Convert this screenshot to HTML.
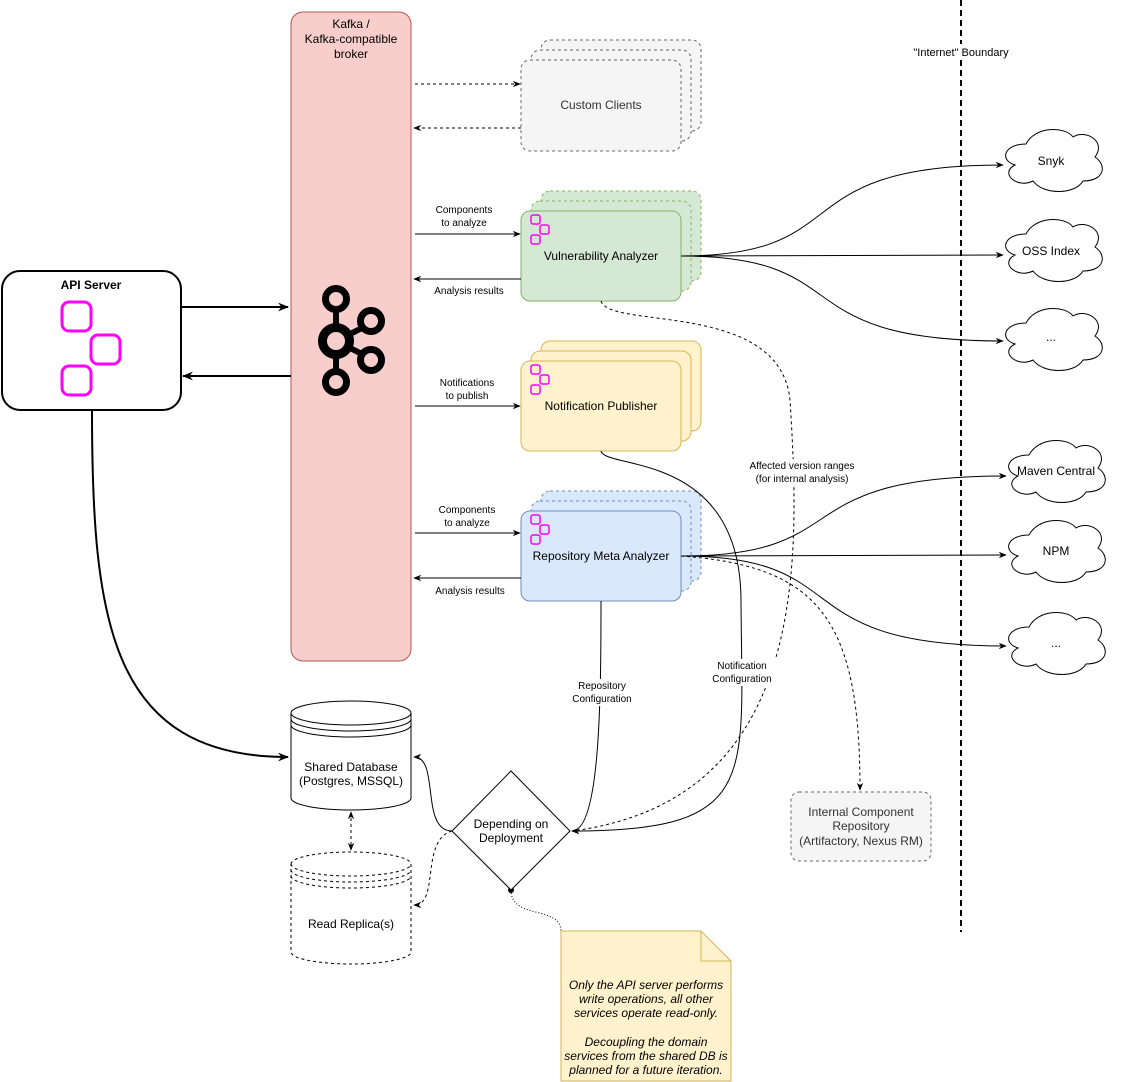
<!DOCTYPE html>
<html><head><meta charset="utf-8"><style>
body{margin:0;background:#fff}
svg{display:block;font-family:"Liberation Sans",Helvetica,sans-serif}
text{font-size:12px;fill:#000}
</style></head><body>
<svg width="1122" height="1082" viewBox="0 0 1122 1082" xmlns="http://www.w3.org/2000/svg">
<defs>
<marker id="a" viewBox="0 0 10 10" refX="9" refY="5" markerWidth="8" markerHeight="8" orient="auto-start-reverse" markerUnits="userSpaceOnUse"><path d="M0,1 L10,5 L0,9 L3,5 Z" fill="#000"/></marker>
<marker id="b" viewBox="0 0 10 10" refX="9" refY="5" markerWidth="11" markerHeight="11" orient="auto-start-reverse" markerUnits="userSpaceOnUse"><path d="M0,1 L10,5 L0,9 L3,5 Z" fill="#000"/></marker>
<path id="cl" d="M27 15 C5 15 0 31 16 36 C0 44 18 60 34 52 C44 66 76 66 84 52 C106 52 108 36 96 28 C108 12 86 0 74 8 C66 -3 36 -3 27 15 Z"/>
<g id="ic" fill="none" stroke="#ff00ff" stroke-width="1.5"><rect x="0" y="0" width="9" height="9" rx="2"/><rect x="9" y="10" width="9" height="9" rx="2"/><rect x="0" y="20" width="9" height="9" rx="2"/></g>
</defs>

<!-- boundary -->
<line x1="961" y1="0" x2="961" y2="932" stroke="#000" stroke-width="2" stroke-dasharray="6,4"/>
<rect x="912" y="44" width="98" height="13" fill="#fff"/>
<text x="961" y="56" text-anchor="middle" style="font-size:11px">"Internet" Boundary</text>

<!-- Kafka -->
<rect x="291" y="12" width="120" height="649" rx="12" fill="#f8cecc" stroke="#b85450"/>
<text x="351" y="28" text-anchor="middle">Kafka /</text>
<text x="351" y="43" text-anchor="middle">Kafka-compatible</text>
<text x="351" y="58" text-anchor="middle">broker</text>
<g stroke="#000" stroke-width="6" fill="none">
<line x1="336" y1="308" x2="336" y2="373"/><line x1="336" y1="341" x2="364" y2="327"/><line x1="336" y1="341" x2="364" y2="355"/>
<circle cx="336" cy="341" r="13.5" fill="#f8cecc" stroke-width="9"/>
<circle cx="336" cy="299" r="10.5" fill="#f8cecc" stroke-width="7"/><circle cx="336" cy="382" r="10.5" fill="#f8cecc" stroke-width="7"/>
<circle cx="371" cy="321" r="10.5" fill="#f8cecc" stroke-width="7"/><circle cx="371" cy="360" r="10.5" fill="#f8cecc" stroke-width="7"/>
</g>

<!-- API server -->
<rect x="2" y="271" width="179" height="139" rx="18" fill="#fff" stroke="#000" stroke-width="2"/>
<text x="91" y="289" text-anchor="middle" font-weight="bold">API Server</text>
<g fill="none" stroke="#ff00ff" stroke-width="3"><rect x="62" y="302" width="29" height="29" rx="7"/><rect x="91" y="335" width="29" height="29" rx="7"/><rect x="62" y="366" width="29" height="29" rx="7"/></g>
<line x1="181" y1="307" x2="288" y2="307" stroke="#000" stroke-width="2" marker-end="url(#b)"/>
<line x1="291" y1="376" x2="183" y2="376" stroke="#000" stroke-width="2" marker-end="url(#b)"/>

<!-- Custom clients -->
<g fill="#f5f5f5" stroke="#666" stroke-dasharray="3,3">
<rect x="541" y="40" width="160" height="91" rx="9"/><rect x="531" y="50" width="160" height="91" rx="9"/><rect x="521" y="60" width="160" height="91" rx="9"/></g>
<text x="601" y="109" text-anchor="middle" style="fill:#333">Custom Clients</text>
<line x1="415" y1="84" x2="520" y2="84" stroke="#000" stroke-dasharray="3,3" marker-end="url(#a)"/>
<line x1="521" y1="128" x2="414" y2="128" stroke="#000" stroke-dasharray="3,3" marker-end="url(#a)"/>

<!-- Vulnerability Analyzer -->
<g fill="#d5e8d4" stroke="#82b366"><rect x="541" y="191" width="160" height="90" rx="9" stroke-dasharray="3,3"/><rect x="531" y="201" width="160" height="90" rx="9" stroke-dasharray="3,3"/><rect x="521" y="211" width="160" height="90" rx="9"/></g>
<use href="#ic" x="531" y="215"/>
<text x="601" y="260" text-anchor="middle">Vulnerability Analyzer</text>
<line x1="415" y1="234" x2="520" y2="234" stroke="#000" marker-end="url(#a)"/>
<text x="464" y="213" text-anchor="middle" style="font-size:10px">Components</text><text x="464" y="226" text-anchor="middle" style="font-size:10px">to analyze</text>
<line x1="521" y1="279" x2="414" y2="279" stroke="#000" marker-end="url(#a)"/>
<text x="469" y="294" text-anchor="middle" style="font-size:10px">Analysis results</text>

<!-- Notification Publisher -->
<g fill="#fff2cc" stroke="#d6b656"><rect x="541" y="341" width="160" height="90" rx="9"/><rect x="531" y="351" width="160" height="90" rx="9"/><rect x="521" y="361" width="160" height="90" rx="9"/></g>
<use href="#ic" x="531" y="365"/>
<text x="601" y="410" text-anchor="middle">Notification Publisher</text>
<line x1="415" y1="406" x2="520" y2="406" stroke="#000" marker-end="url(#a)"/>
<text x="467" y="386" text-anchor="middle" style="font-size:10px">Notifications</text><text x="467" y="399" text-anchor="middle" style="font-size:10px">to publish</text>

<!-- Repository Meta Analyzer -->
<g fill="#dae8fc" stroke="#6c8ebf"><rect x="541" y="491" width="160" height="90" rx="9" stroke-dasharray="3,3"/><rect x="531" y="501" width="160" height="90" rx="9" stroke-dasharray="3,3"/><rect x="521" y="511" width="160" height="90" rx="9"/></g>
<use href="#ic" x="531" y="515"/>
<text x="601" y="560" text-anchor="middle">Repository Meta Analyzer</text>
<line x1="415" y1="533" x2="520" y2="533" stroke="#000" marker-end="url(#a)"/>
<text x="467" y="513" text-anchor="middle" style="font-size:10px">Components</text><text x="467" y="526" text-anchor="middle" style="font-size:10px">to analyze</text>
<line x1="521" y1="578" x2="414" y2="578" stroke="#000" marker-end="url(#a)"/>
<text x="470" y="594" text-anchor="middle" style="font-size:10px">Analysis results</text>

<!-- clouds -->
<g fill="#fff" stroke="#000">
<use href="#cl" x="999" y="129"/><use href="#cl" x="999" y="219"/><use href="#cl" x="999" y="308"/>
<use href="#cl" x="1002" y="440"/><use href="#cl" x="1002" y="520"/><use href="#cl" x="1002" y="612"/>
</g>
<text x="1051" y="165" text-anchor="middle">Snyk</text>
<text x="1051" y="255" text-anchor="middle">OSS Index</text>
<text x="1051" y="341" text-anchor="middle">...</text>
<text x="1056" y="475" text-anchor="middle">Maven Central</text>
<text x="1056" y="555" text-anchor="middle">NPM</text>
<text x="1056" y="647" text-anchor="middle">...</text>

<g fill="none" stroke="#000">
<path d="M681 256 C860 256 780 165 1003 165" marker-end="url(#a)"/>
<path d="M681 256 L1003 255" marker-end="url(#a)"/>
<path d="M681 256 C860 256 780 341 1003 341" marker-end="url(#a)"/>
<path d="M681 556 C860 556 780 476 1006 476" marker-end="url(#a)"/>
<path d="M681 556 L1006 555" marker-end="url(#a)"/>
<path d="M681 556 C860 556 780 646 1006 646" marker-end="url(#a)"/>
<path d="M681 556 C820 566 860 620 860 790" stroke-dasharray="3,3" marker-end="url(#a)"/>
<path d="M92 410 C92 620 110 757 288 757" stroke-width="2" marker-end="url(#b)"/>
<path d="M601 601 C601 700 600 831 572 831" marker-end="url(#a)"/>
<path d="M601 451 C605 470 740 450 741 600 C742 780 760 831 572 831" marker-end="url(#a)"/>
<path d="M601 301 C610 330 780 300 790 400 C800 560 810 800 572 831" stroke-dasharray="3,3"/>
<path d="M452 831 C420 831 440 757 414 757" marker-end="url(#a)"/>
<path d="M452 831 C420 840 440 905 414 905" stroke-dasharray="3,3" marker-end="url(#a)"/>
<path d="M351 812 L351 850" stroke-dasharray="3,3" marker-start="url(#a)" marker-end="url(#a)"/>
<path d="M511 890 C511 920 560 905 561 931" stroke-dasharray="1,2"/>
</g>
<circle cx="511" cy="890" r="3" fill="#000"/>

<rect x="572" y="679" width="60" height="27" fill="#fff"/>
<text x="602" y="689" text-anchor="middle" style="font-size:10px">Repository</text><text x="602" y="702" text-anchor="middle" style="font-size:10px">Configuration</text>
<rect x="707" y="659" width="70" height="27" fill="#fff"/>
<text x="742" y="669" text-anchor="middle" style="font-size:10px">Notification</text><text x="742" y="682" text-anchor="middle" style="font-size:10px">Configuration</text>
<rect x="742" y="459" width="120" height="27" fill="#fff"/>
<text x="802" y="469" text-anchor="middle" style="font-size:10px">Affected version ranges</text><text x="802" y="482" text-anchor="middle" style="font-size:10px">(for internal analysis)</text>

<!-- Internal repo -->
<rect x="791" y="792" width="140" height="69" rx="8" fill="#f5f5f5" stroke="#666" stroke-dasharray="3,3"/>
<text x="861" y="816" text-anchor="middle" style="fill:#333">Internal Component</text>
<text x="861" y="830" text-anchor="middle" style="fill:#333">Repository</text>
<text x="861" y="845" text-anchor="middle" style="fill:#333">(Artifactory, Nexus RM)</text>

<!-- Shared DB -->
<g fill="#fff" stroke="#000">
<path d="M291 713 A60 12 0 0 1 411 713 L411 798 A60 12 0 0 1 291 798 Z"/>
<path d="M291 713 A60 12 0 0 0 411 713 M291 719 A60 12 0 0 0 411 719 M291 725 A60 12 0 0 0 411 725" fill="none"/>
</g>
<text x="351" y="771" text-anchor="middle">Shared Database</text>
<text x="351" y="785" text-anchor="middle">(Postgres, MSSQL)</text>
<!-- Replica -->
<g fill="#fff" stroke="#000" stroke-dasharray="3,3">
<path d="M291 864 A60 12 0 0 1 411 864 L411 952 A60 12 0 0 1 291 952 Z"/>
<path d="M291 864 A60 12 0 0 0 411 864 M291 870 A60 12 0 0 0 411 870 M291 876 A60 12 0 0 0 411 876" fill="none"/>
</g>
<text x="351" y="928" text-anchor="middle">Read Replica(s)</text>

<!-- Diamond -->
<path d="M511 771 L570 831 L511 890 L452 831 Z" fill="#fff" stroke="#000"/>
<text x="511" y="828" text-anchor="middle">Depending on</text>
<text x="511" y="842" text-anchor="middle">Deployment</text>

<!-- Note -->
<path d="M561 931 L701 931 L731 961 L731 1081 L561 1081 Z" fill="#fff2cc" stroke="#d6b656"/>
<path d="M701 931 L701 961 L731 961" fill="none" stroke="#d6b656"/>
<g font-style="italic">
<text x="646" y="989" text-anchor="middle">Only the API server performs</text>
<text x="646" y="1003" text-anchor="middle">write operations, all other</text>
<text x="646" y="1017" text-anchor="middle">services operate read-only.</text>
<text x="646" y="1046" text-anchor="middle">Decoupling the domain</text>
<text x="646" y="1060" text-anchor="middle">services from the shared DB is</text>
<text x="646" y="1074" text-anchor="middle">planned for a future iteration.</text>
</g>
</svg>
</body></html>
